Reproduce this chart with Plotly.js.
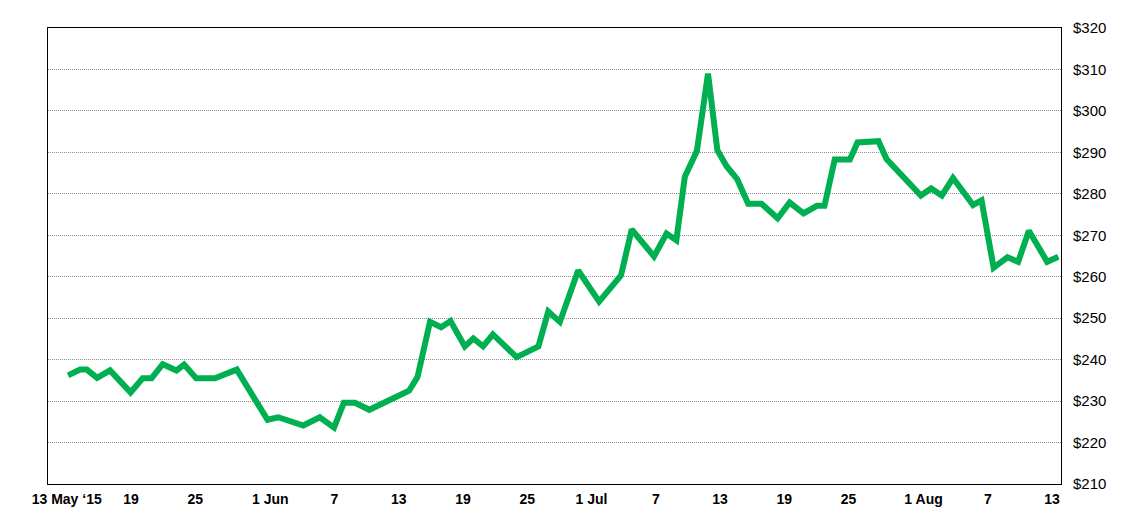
<!DOCTYPE html>
<html>
<head>
<meta charset="utf-8">
<script src="https://cdn.plot.ly/plotly-3.0.1.min.js"></script>
<style>html,body{margin:0;padding:0;background:#fff;}#chart{width:1132px;height:521px;}</style>
</head>
<body>
<div id="chart"></div>
<script>
// Price readings (date-time, USD)
var dates = [
  '2015-05-13 03:00','2015-05-14 06:00','2015-05-14 21:00','2015-05-15 20:00','2015-05-17 01:00',
  '2015-05-18 23:00','2015-05-20 02:00','2015-05-20 22:00','2015-05-21 23:00','2015-05-23 06:00',
  '2015-05-23 23:00','2015-05-25 02:00','2015-05-26 20:00','2015-05-28 21:00','2015-05-31 18:00',
  '2015-06-01 18:00','2015-06-04 02:00','2015-06-05 15:00','2015-06-06 23:00','2015-06-07 21:00',
  '2015-06-08 22:00','2015-06-10 06:00','2015-06-13 23:00','2015-06-14 18:00','2015-06-15 22:00',
  '2015-06-16 23:00','2015-06-17 20:00','2015-06-19 04:00','2015-06-19 23:00','2015-06-20 21:00',
  '2015-06-21 19:00','2015-06-24 00:00','2015-06-26 01:00','2015-06-26 23:00','2015-06-28 01:00',
  '2015-06-29 18:00','2015-07-01 17:00','2015-07-03 18:00','2015-07-04 18:00','2015-07-06 20:00',
  '2015-07-08 00:00','2015-07-08 22:00','2015-07-09 17:00','2015-07-10 20:00','2015-07-11 21:00',
  '2015-07-12 18:00','2015-07-13 15:00','2015-07-14 14:00','2015-07-15 15:00','2015-07-16 21:00',
  '2015-07-18 09:00','2015-07-19 12:00','2015-07-20 19:00','2015-07-22 01:00','2015-07-22 18:00',
  '2015-07-23 17:00','2015-07-25 03:00','2015-07-25 20:00','2015-07-27 19:00','2015-07-28 13:00',
  '2015-07-31 18:00','2015-08-01 17:00','2015-08-02 17:00','2015-08-03 18:00','2015-08-05 15:00',
  '2015-08-06 10:00','2015-08-07 13:00','2015-08-08 20:00','2015-08-09 20:00','2015-08-10 20:00',
  '2015-08-12 13:00','2015-08-13 14:00'
];
var prices = [
  236.2, 237.6, 237.6, 235.6, 237.4,
  232.1, 235.5, 235.5, 238.9, 237.4,
  238.8, 235.5, 235.5, 237.6, 225.5,
  226.1, 224.1, 226.1, 223.6, 229.6,
  229.6, 227.9, 232.5, 235.8, 249.1,
  247.8, 249.3, 243.2, 245.1, 243.2,
  246.1, 240.6, 243.2, 251.6, 249.1,
  261.5, 254.0, 260.3, 271.4, 264.9,
  270.4, 268.8, 284.1, 290.3, 309.0,
  290.5, 286.6, 283.6, 277.6, 277.6,
  274.1, 277.9, 275.3, 277.1, 277.1,
  288.3, 288.3, 292.4, 292.7, 288.4,
  279.6, 281.3, 279.6, 283.8, 277.3,
  278.4, 262.2, 264.7, 263.6, 271.1,
  263.6, 264.8
];
var tickDates = ['2015-05-13','2015-05-19','2015-05-25','2015-06-01','2015-06-07','2015-06-13',
  '2015-06-19','2015-06-25','2015-07-01','2015-07-07','2015-07-13','2015-07-19','2015-07-25',
  '2015-08-01','2015-08-07','2015-08-13'];
var tickLabels = ['13 May \u201815','19','25','1 Jun','7','13','19','25','1 Jul','7','13','19','25',
  '1 Aug','7','13'];
var yTicks = [210,220,230,240,250,260,270,280,290,300,310,320];
var yLabels = ['$210','$220','$230','$240','$250','$260','$270','$280','$290','$300','$310','$320'];

var trace = {
  x: dates, y: prices, type: 'scatter', mode: 'lines',
  line: {color: '#00B050', width: 6, shape: 'linear'},
  hoverinfo: 'x+y'
};
var layout = {
  width: 1132, height: 521,
  margin: {l: 48, r: 71, t: 28, b: 37},
  paper_bgcolor: '#ffffff', plot_bgcolor: '#ffffff',
  showlegend: false,
  font: {family: 'Liberation Sans, Arial, sans-serif', color: '#000'},
  xaxis: {
    type: 'date',
    range: ['2015-05-11 06:00', '2015-08-13 20:00'],
    tickmode: 'array', tickvals: tickDates, ticktext: tickLabels,
    ticks: '', showgrid: false, zeroline: false,
    showline: true, mirror: true, linecolor: '#000', linewidth: 1,
    tickfont: {family: 'Liberation Sans, Arial, sans-serif', size: 14, color: '#000', weight: 'bold'},
    ticklabelstandoff: 2
  },
  yaxis: {
    side: 'right',
    range: [210, 320],
    tickmode: 'array', tickvals: yTicks, ticktext: yLabels,
    ticks: '', showgrid: true, gridcolor: '#8c8c8c', griddash: '1px,1px', gridwidth: 1,
    zeroline: false, showline: true, mirror: true, linecolor: '#000', linewidth: 1,
    tickfont: {family: 'Liberation Sans, Arial, sans-serif', size: 15, color: '#000'},
    ticklabelstandoff: 8
  }
};
Plotly.newPlot('chart', [trace], layout, {displayModeBar: false, staticPlot: true});
</script>
</body>
</html>
